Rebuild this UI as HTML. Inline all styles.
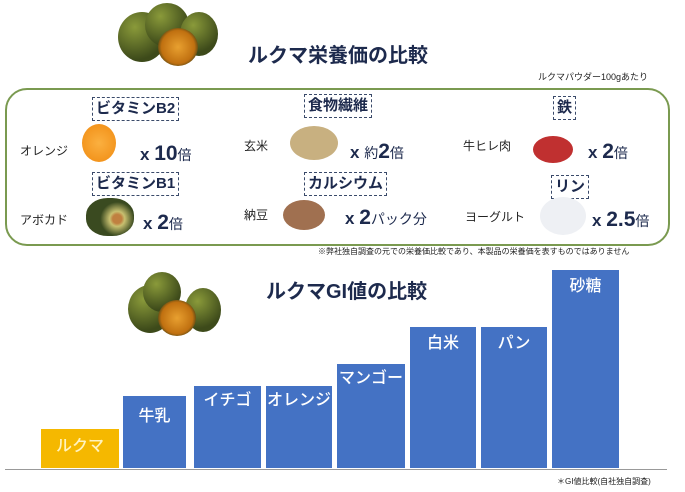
<!DOCTYPE html>
<html><head><meta charset="utf-8"><style>
body{margin:0;width:685px;height:492px;background:#fff;position:relative;overflow:hidden;font-family:"Liberation Sans","Noto Sans CJK JP",sans-serif;}
.a{position:absolute;white-space:nowrap;}
.t{color:#1d2a4d;font-weight:bold;}
.lbl{border:1px dashed #3a4a6a;padding:0 3px;font-weight:bold;color:#1d2a4d;font-size:15px;line-height:22px;}
.sm{font-size:12px;color:#222;}
.x{font-size:17px;font-weight:bold;color:#1d2a4d;}
.x b{font-size:21px;}
.x i{font-style:normal;font-size:14px;font-weight:normal;}
.bar{position:absolute;background:#4472c4;color:#fff;font-size:16px;text-align:center;box-sizing:border-box;padding-top:6px;font-weight:500;}
.fruit{position:absolute;border-radius:50%;background:radial-gradient(circle at 35% 30%,#8a9a3a,#3d4a1a 70%);}
.half{position:absolute;border-radius:50%;background:radial-gradient(circle at 50% 50%,#e8a030,#c07010 60%,#5a4a15 75%);}
</style></head><body>
<div class="fruit" style="left:118px;top:12px;width:48px;height:50px"></div>
<div class="fruit" style="left:145px;top:3px;width:44px;height:44px"></div>
<div class="fruit" style="left:180px;top:12px;width:38px;height:44px"></div>
<div class="half" style="left:158px;top:28px;width:40px;height:38px"></div>
<div class="a t" style="left:248px;top:39px;font-size:20px">ルクマ栄養価の比較</div>
<div class="a" style="left:538px;top:70px;font-size:9px;color:#222">ルクマパウダー100gあたり</div>
<div class="a" style="left:5px;top:88px;width:661px;height:154px;border:2px solid #7a9a50;border-radius:22px"></div>
<div class="a lbl" style="left:92px;top:97px">ビタミンB2</div>
<div class="a lbl" style="left:304px;top:94px">食物繊維</div>
<div class="a lbl" style="left:553px;top:96px">鉄</div>
<div class="a lbl" style="left:92px;top:172px">ビタミンB1</div>
<div class="a lbl" style="left:304px;top:172px">カルシウム</div>
<div class="a lbl" style="left:551px;top:175px">リン</div>
<div class="a sm" style="left:20px;top:142px">オレンジ</div>
<div class="a sm" style="left:244px;top:137px">玄米</div>
<div class="a sm" style="left:463px;top:137px">牛ヒレ肉</div>
<div class="a sm" style="left:20px;top:211px">アボカド</div>
<div class="a sm" style="left:244px;top:206px">納豆</div>
<div class="a sm" style="left:465px;top:208px">ヨーグルト</div>
<div class="a" style="left:82px;top:124px;width:34px;height:38px;border-radius:50%;background:radial-gradient(circle,#fbb040,#f08a10)"></div>
<div class="a" style="left:290px;top:126px;width:48px;height:34px;border-radius:50%;background:#c8b080"></div>
<div class="a" style="left:533px;top:136px;width:40px;height:27px;border-radius:50%;background:#c03030"></div>
<div class="a" style="left:86px;top:198px;width:48px;height:38px;border-radius:45%;background:radial-gradient(circle at 65% 55%,#c08040 12%,#c8c070 20%,#3a4a20 45%)"></div>
<div class="a" style="left:283px;top:200px;width:42px;height:30px;border-radius:50%;background:#a07050"></div>
<div class="a" style="left:540px;top:197px;width:46px;height:38px;border-radius:50%;background:#eef0f4"></div>
<div class="a x" style="left:140px;top:142px">x <b>10</b><i>倍</i></div>
<div class="a x" style="left:350px;top:140px">x <i>約</i><b>2</b><i>倍</i></div>
<div class="a x" style="left:588px;top:140px">x <b>2</b><i>倍</i></div>
<div class="a x" style="left:143px;top:211px">x <b>2</b><i>倍</i></div>
<div class="a x" style="left:345px;top:206px">x <b>2</b><i>パック分</i></div>
<div class="a x" style="left:592px;top:208px">x <b>2.5</b><i>倍</i></div>
<div class="a" style="left:318px;top:246px;font-size:8px;color:#222">※弊社独自調査の元での栄養価比較であり、本製品の栄養価を表すものではありません</div>
<div class="fruit" style="left:128px;top:285px;width:44px;height:48px"></div>
<div class="fruit" style="left:143px;top:272px;width:38px;height:40px"></div>
<div class="fruit" style="left:185px;top:288px;width:36px;height:44px"></div>
<div class="half" style="left:158px;top:300px;width:38px;height:36px"></div>
<div class="a t" style="left:266px;top:275px;font-size:20px">ルクマGI値の比較</div>
<div class="bar" style="left:41px;top:429px;width:78px;height:39px;background:#f5b800;color:#fff3c0;padding-top:3px">ルクマ</div>
<div class="bar" style="left:123px;top:396px;width:63px;height:72px">牛乳</div>
<div class="bar" style="left:194px;top:386px;width:67px;height:82px;padding-top:0">イチゴ</div>
<div class="bar" style="left:266px;top:386px;width:66px;height:82px;padding-top:0">オレンジ</div>
<div class="bar" style="left:337px;top:364px;width:68px;height:104px;padding-top:0">マンゴー</div>
<div class="bar" style="left:410px;top:327px;width:66px;height:141px;padding-top:2px">白米</div>
<div class="bar" style="left:481px;top:327px;width:66px;height:141px;padding-top:2px">パン</div>
<div class="bar" style="left:552px;top:270px;width:67px;height:198px;padding-top:2px">砂糖</div>
<div class="a" style="left:5px;top:469px;width:662px;height:1px;background:#999"></div>
<div class="a" style="left:557px;top:476px;font-size:8px;color:#222">＊GI値比較(自社独自調査)</div>
</body></html>
